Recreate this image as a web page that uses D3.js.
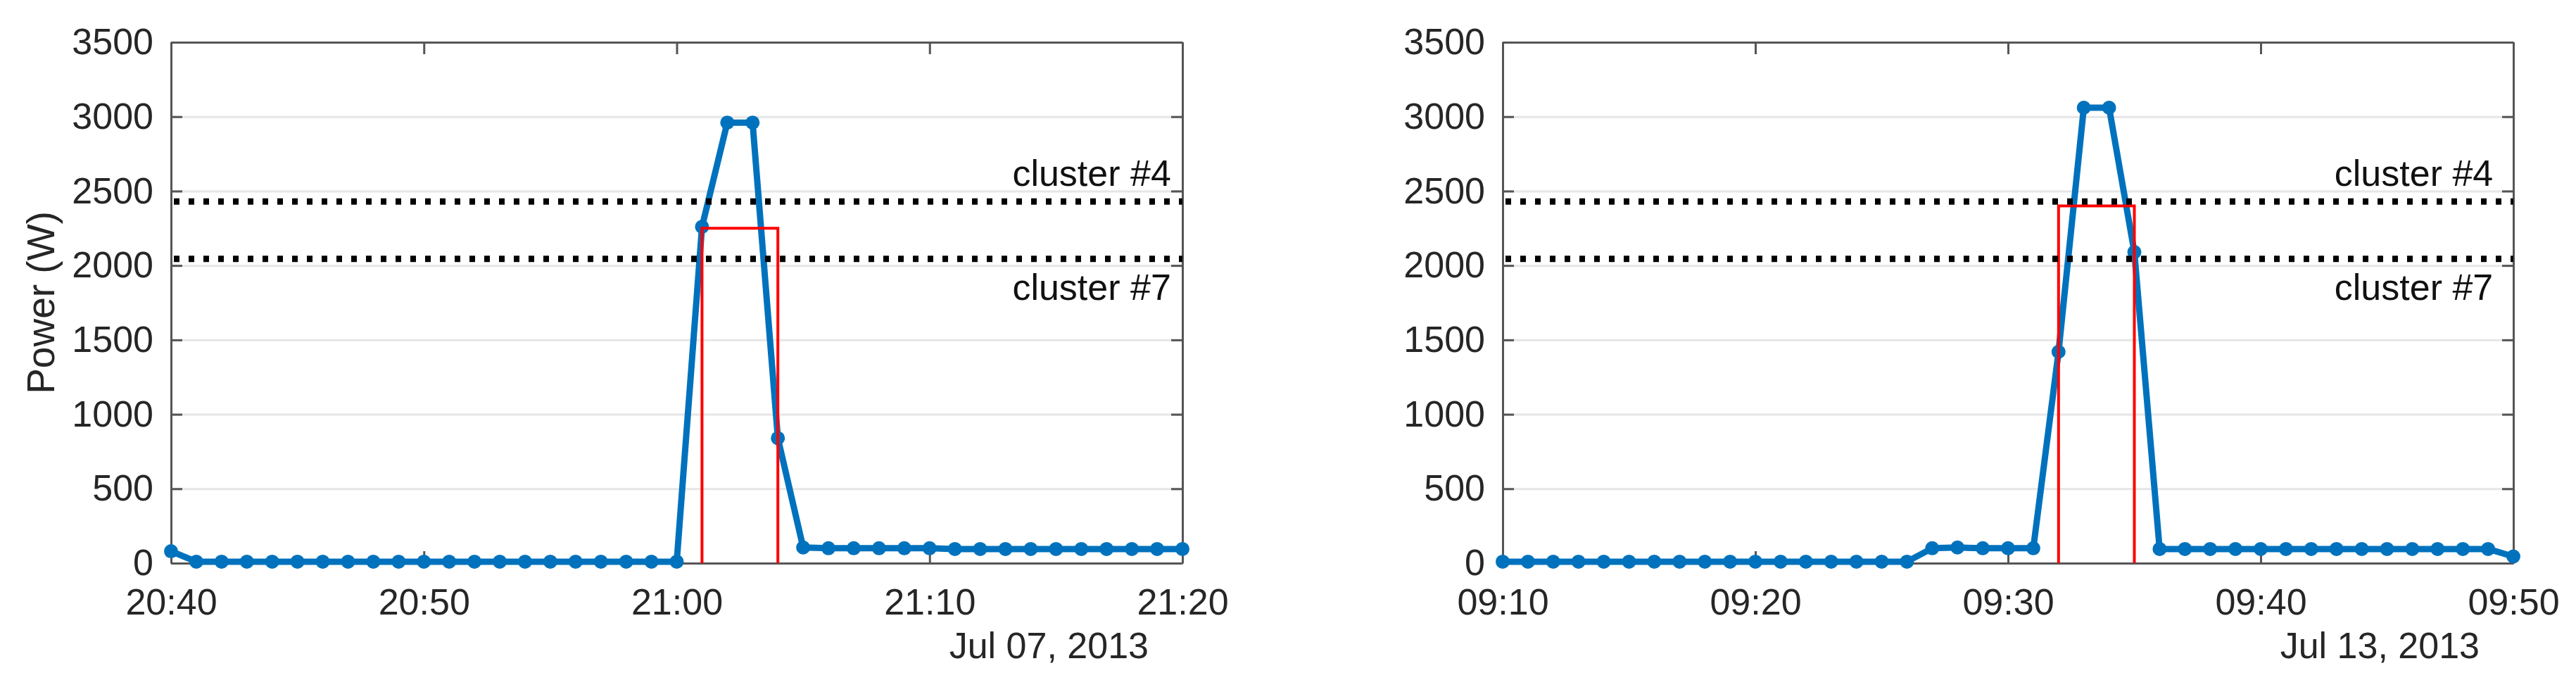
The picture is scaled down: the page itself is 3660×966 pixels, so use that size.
<!DOCTYPE html>
<html>
<head>
<meta charset="utf-8">
<script src="https://cdn.jsdelivr.net/npm/d3@7"></script>
<style>
  body { margin: 0; background: #fff; }
  svg { display: block; font-family: "Liberation Sans", Arial, Helvetica, sans-serif; }
  .axis text { fill: #262626; font-size: 52px; }
  .axis path, .axis line { stroke: #555; stroke-width: 3; }
  .grid line { stroke: #e6e6e6; stroke-width: 3; }
  .grid path { display: none; }
</style>
</head>
<body>
<div class="chart"></div>
<script>
// DATA ------------------------------
// one sample per minute, 41 samples per panel
let leftStart = "2013-07-07T20:40:00";
let leftValues = [80, 10, 10, 10, 10, 10, 10, 10, 10, 10, 10, 10, 10, 10, 10, 10, 10, 10, 10, 10, 10,
  2260, 2960, 2960, 840,
  105, 100, 100, 100, 100, 100, 95, 95, 95, 95, 95, 95, 95, 95, 95, 95];
let leftStep = { from: 21, to: 24, power: 2250 }; // minutes after start
let leftDate = "Jul 07, 2013";

let rightStart = "2013-07-13T09:10:00";
let rightValues = [10, 10, 10, 10, 10, 10, 10, 10, 10, 10, 10, 10, 10, 10, 10, 10, 10,
  100, 105, 100, 100, 100,
  1420, 3060, 3060, 2090,
  95, 95, 95, 95, 95, 95, 95, 95, 95, 95, 95, 95, 95, 95, 45];
let rightStep = { from: 22, to: 25, power: 2400 };
let rightDate = "Jul 13, 2013";

let clusterLevels = [2430, 2045];
let clusterNames = ["cluster #4", "cluster #7"];
let yTicks = [0, 500, 1000, 1500, 2000, 2500, 3000, 3500];

// CHART INIT ------------------------------
let W = 3660, H = 966;
let top0 = 60, bottom0 = 800;

let svg = d3.select(".chart").append("svg")
  .attr("width", W)
  .attr("height", H);

let y = d3.scaleLinear().domain([0, 3500]).range([bottom0, top0]);

let panels = [
  { start: leftStart, values: leftValues, step: leftStep, date: leftDate, left: 243, right: 1680, ylabel: true, labelEnd: 39.55 },
  { start: rightStart, values: rightValues, step: rightStep, date: rightDate, left: 2135, right: 3571, ylabel: false, labelEnd: 39.2 }
];

panels.forEach(function(p) {
  let t0 = new Date(p.start);
  let data = p.values.map(function(v, i) {
    return { t: d3.timeMinute.offset(t0, i), v: v };
  });
  let x = d3.scaleTime()
    .domain([t0, d3.timeMinute.offset(t0, 40)])
    .range([p.left, p.right]);
  let w = p.right - p.left;
  let h = bottom0 - top0;

  // grid
  svg.append("g")
    .attr("class", "grid")
    .attr("transform", "translate(" + p.left + ",0)")
    .call(d3.axisLeft(y).tickValues(yTicks.slice(1, -1)).tickSize(-w).tickFormat(""));

  // axes box with inward ticks
  svg.append("g")
    .attr("class", "axis")
    .attr("transform", "translate(" + p.left + ",0)")
    .call(d3.axisLeft(y).tickValues(yTicks).tickSizeInner(-16).tickSizeOuter(0)
      .tickPadding(25).tickFormat(d3.format("d")));

  svg.append("g")
    .attr("class", "axis")
    .attr("transform", "translate(" + p.right + ",0)")
    .call(d3.axisRight(y).tickValues(yTicks).tickSizeInner(-16).tickSizeOuter(0).tickFormat(""));

  svg.append("g")
    .attr("class", "axis")
    .attr("transform", "translate(0," + bottom0 + ")")
    .call(d3.axisBottom(x).ticks(d3.timeMinute.every(10)).tickSizeInner(-17).tickSizeOuter(0)
      .tickPadding(36).tickFormat(d3.timeFormat("%H:%M")));

  svg.append("g")
    .attr("class", "axis")
    .attr("transform", "translate(0," + top0 + ")")
    .call(d3.axisTop(x).ticks(d3.timeMinute.every(10)).tickSizeInner(-17).tickSizeOuter(0).tickFormat(""));

  // power line
  let line = d3.line().x(d => x(d.t)).y(d => y(d.v));
  svg.append("path")
    .datum(data)
    .attr("fill", "none")
    .attr("stroke", "#0072BD")
    .attr("stroke-width", 9)
    .attr("stroke-linejoin", "round")
    .attr("d", line);

  svg.selectAll(null)
    .data(data)
    .enter()
    .append("circle")
    .attr("cx", d => x(d.t))
    .attr("cy", d => y(d.v))
    .attr("r", 10)
    .attr("fill", "#0072BD");

  // detected event (red step)
  let s0 = d3.timeMinute.offset(t0, p.step.from);
  let s1 = d3.timeMinute.offset(t0, p.step.to);
  svg.append("path")
    .attr("fill", "none")
    .attr("stroke", "#ff0000")
    .attr("stroke-width", 4)
    .attr("d", "M" + x(s0) + "," + y(0) + "V" + y(p.step.power) + "H" + x(s1) + "V" + y(0));

  // cluster levels
  let labelX = x(new Date(t0.getTime() + p.labelEnd * 60000));
  clusterLevels.forEach(function(c, i) {
    svg.append("line")
      .attr("x1", p.left + 4)
      .attr("x2", p.right)
      .attr("y1", y(c))
      .attr("y2", y(c))
      .attr("stroke", "#000")
      .attr("stroke-width", 9)
      .attr("stroke-dasharray", "8 13");

    svg.append("text")
      .attr("x", labelX)
      .attr("y", i == 0 ? y(c) - 22 : y(c) + 58)
      .attr("text-anchor", "end")
      .attr("fill", "#111")
      .style("font-size", "52px")
      .text(clusterNames[i]);
  });

  // date label
  svg.append("text")
    .attr("x", p.right - 48)
    .attr("y", 935)
    .attr("text-anchor", "end")
    .attr("fill", "#262626")
    .style("font-size", "52px")
    .text(p.date);

  if (p.ylabel) {
    svg.append("text")
      .attr("transform", "translate(77," + (top0 + h / 2) + ") rotate(-90)")
      .attr("text-anchor", "middle")
      .attr("fill", "#262626")
      .style("font-size", "55px")
      .text("Power (W)");
  }
});
</script>
</body>
</html>
